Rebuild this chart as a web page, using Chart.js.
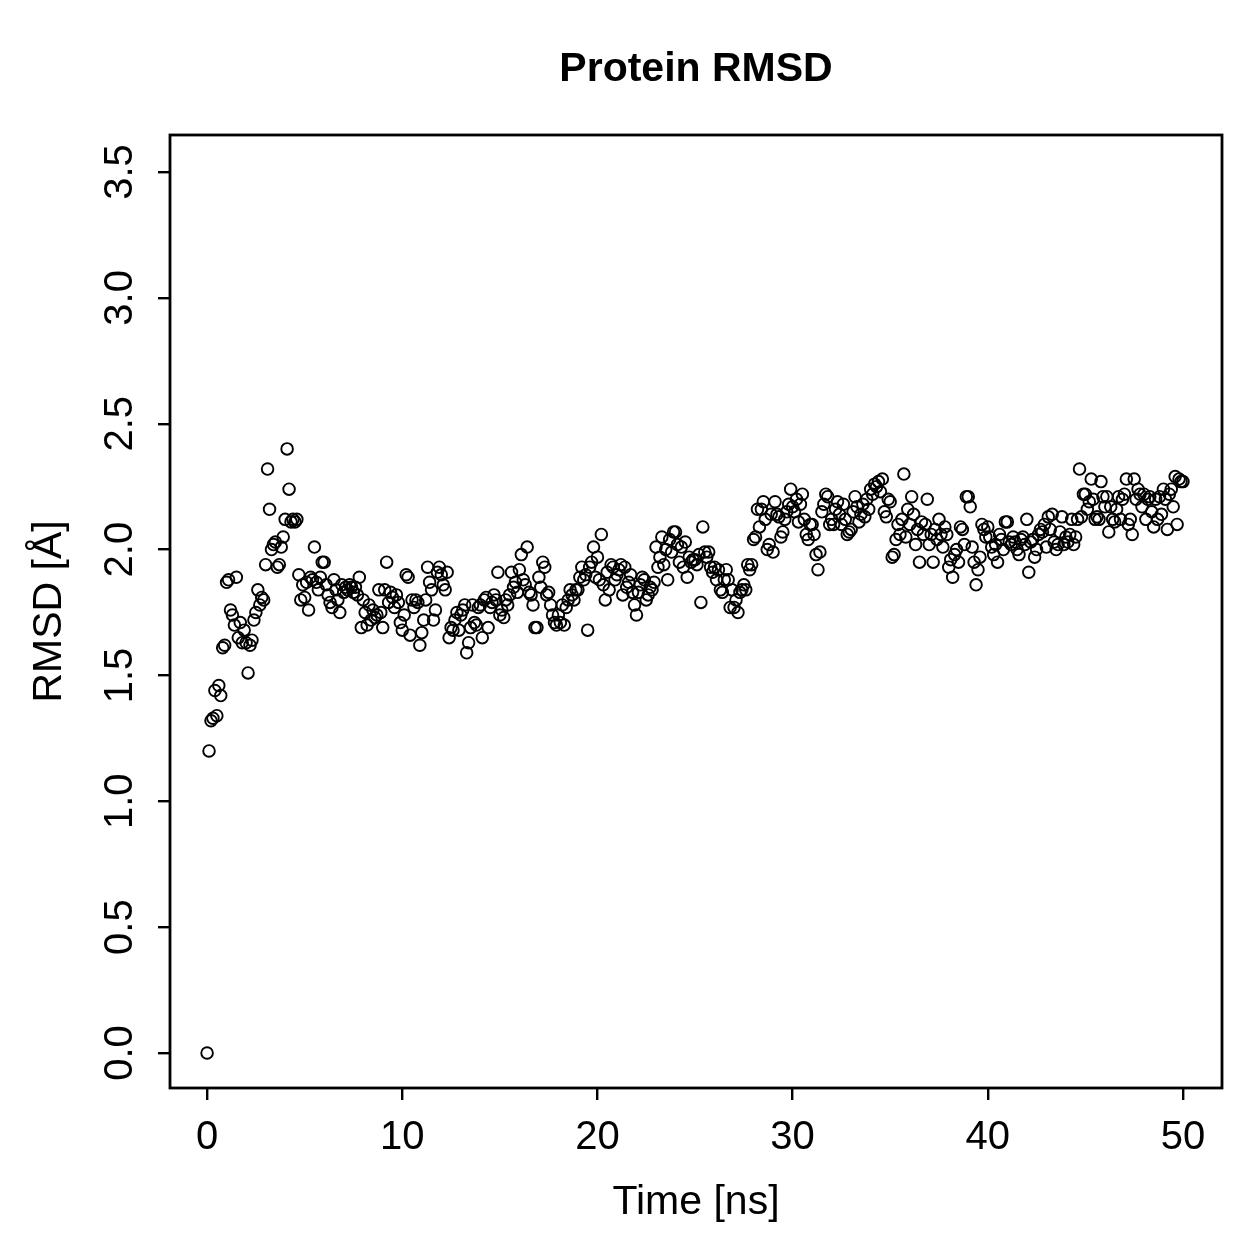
<!DOCTYPE html>
<html lang="en">
<head>
    <meta charset="UTF-8">
    <title>Protein RMSD</title>
    <script src="https://cdn.jsdelivr.net/npm/chart.js"></script>
    <style>
        html, body { margin: 0; padding: 0; background: #fff; }
        #wrap { width: 1259px; height: 1259px; }
    </style>
</head>
<body>
    <div id="wrap"><canvas id="rmsd-chart" width="1259" height="1259"></canvas></div>

    <script>
        // frames are written every 0.1 ns
        const dt = 0.1;

        // RMSD [Å], one row per ns (10 frames each)
        const rmsd = [
            0.00, 1.20, 1.32, 1.33, 1.44, 1.34, 1.46, 1.42, 1.61, 1.62,
            1.87, 1.88, 1.76, 1.74, 1.70, 1.89, 1.65, 1.71, 1.63, 1.68,
            1.63, 1.51, 1.62, 1.64, 1.72, 1.75, 1.84, 1.78, 1.81, 1.80,
            1.94, 2.32, 2.16, 2.00, 2.02, 2.03, 1.93, 1.94, 2.01, 2.05,
            2.12, 2.40, 2.24, 2.11, 2.12, 2.11, 2.12, 1.90, 1.80, 1.86,
            1.81, 1.87, 1.76, 1.89, 1.88, 2.01, 1.87, 1.84, 1.89, 1.95,
            1.95, 1.86, 1.82, 1.79, 1.77, 1.88, 1.84, 1.80, 1.75, 1.86,
            1.83, 1.85, 1.84, 1.86, 1.85, 1.83, 1.85, 1.82, 1.89, 1.69,
            1.80, 1.75, 1.70, 1.78, 1.72, 1.76, 1.73, 1.74, 1.84, 1.75,
            1.69, 1.84, 1.95, 1.79, 1.83, 1.81, 1.77, 1.82, 1.79, 1.71,
            1.68, 1.74, 1.90, 1.89, 1.66, 1.80, 1.77, 1.80, 1.79, 1.62,
            1.67, 1.72, 1.80, 1.93, 1.87, 1.84, 1.72, 1.76, 1.91, 1.93,
            1.90, 1.86, 1.84, 1.91, 1.65, 1.69, 1.68, 1.72, 1.75, 1.68,
            1.74, 1.76, 1.78, 1.59, 1.63, 1.69, 1.78, 1.71, 1.70, 1.77,
            1.78, 1.65, 1.80, 1.81, 1.69, 1.77, 1.79, 1.82, 1.80, 1.91,
            1.74, 1.76, 1.73, 1.80, 1.78, 1.82, 1.91, 1.85, 1.87, 1.83,
            1.92, 1.98, 1.88, 1.86, 2.01, 1.83, 1.82, 1.78, 1.69, 1.69,
            1.89, 1.85, 1.95, 1.93, 1.82, 1.83, 1.78, 1.74, 1.71, 1.70,
            1.74, 1.71, 1.78, 1.70, 1.77, 1.80, 1.84, 1.82, 1.80, 1.84,
            1.84, 1.89, 1.93, 1.88, 1.90, 1.68, 1.93, 1.95, 2.01, 1.89,
            1.97, 1.88, 2.06, 1.86, 1.80, 1.91, 1.84, 1.94, 1.93, 1.88,
            1.90, 1.92, 1.94, 1.82, 1.93, 1.85, 1.87, 1.90, 1.83, 1.78,
            1.74, 1.83, 1.86, 1.89, 1.88, 1.80, 1.82, 1.85, 1.84, 1.87,
            2.01, 1.93, 1.97, 2.05, 1.94, 2.00, 1.88, 2.04, 1.99, 2.07,
            2.07, 2.02, 1.95, 2.01, 1.93, 2.03, 1.89, 1.97, 1.95, 1.96,
            1.96, 1.94, 1.98, 1.79, 2.09, 1.99, 1.97, 1.99, 1.93, 1.91,
            1.93, 1.88, 1.92, 1.84, 1.83, 1.88, 1.92, 1.88, 1.77, 1.84,
            1.77, 1.80, 1.75, 1.83, 1.84, 1.86, 1.84, 1.94, 1.92, 1.94,
            2.04, 2.05, 2.16, 2.09, 2.16, 2.19, 2.12, 2.00, 2.02, 2.14,
            1.99, 2.19, 2.14, 2.13, 2.05, 2.07, 2.12, 2.15, 2.18, 2.24,
            2.17, 2.15, 2.20, 2.11, 2.18, 2.22, 2.12, 2.06, 2.04, 2.10,
            2.10, 2.06, 1.98, 1.92, 1.99, 2.15, 2.18, 2.22, 2.21, 2.10,
            2.12, 2.10, 2.16, 2.19, 2.14, 2.10, 2.18, 2.12, 2.06, 2.07,
            2.08, 2.15, 2.21, 2.17, 2.11, 2.14, 2.18, 2.13, 2.20, 2.16,
            2.24, 2.22, 2.26, 2.25, 2.27, 2.23, 2.28, 2.15, 2.13, 2.20,
            2.19, 1.97, 1.98, 2.04, 2.10, 2.06, 2.12, 2.30, 2.05, 2.16,
            2.10, 2.21, 2.14, 2.02, 2.08, 1.95, 2.11, 2.06, 2.10, 2.20,
            2.02, 2.06, 1.95, 2.08, 2.04, 2.12, 2.06, 2.01, 2.09, 2.06,
            1.93, 1.96, 1.89, 1.98, 2.00, 1.95, 2.09, 2.08, 2.02, 2.21,
            2.21, 2.17, 2.01, 1.95, 1.86, 1.92, 1.97, 2.10, 2.08, 2.05,
            2.09, 2.05, 2.01, 1.98, 2.02, 1.95, 2.06, 2.04, 2.00, 2.11,
            2.11, 2.03, 2.02, 2.05, 2.03, 2.00, 1.98, 2.04, 2.05, 2.02,
            2.12, 1.91, 2.03, 2.04, 1.97, 2.00, 2.06, 2.08, 2.07, 2.10,
            2.01, 2.13, 2.08, 2.14, 2.03, 2.00, 2.02, 2.07, 2.13, 2.02,
            2.05, 2.03, 2.06, 2.12, 2.02, 2.05, 2.12, 2.32, 2.13, 2.22,
            2.22, 2.16, 2.19, 2.28, 2.20, 2.12, 2.13, 2.12, 2.27, 2.21,
            2.17, 2.21, 2.07, 2.17, 2.12, 2.11, 2.16, 2.21, 2.12, 2.20,
            2.22, 2.28, 2.10, 2.12, 2.06, 2.28, 2.20, 2.24, 2.22, 2.17,
            2.22, 2.12, 2.20, 2.21, 2.15, 2.09, 2.20, 2.12, 2.21, 2.14,
            2.24, 2.20, 2.08, 2.22, 2.24, 2.17, 2.29, 2.10, 2.28, 2.27,
            2.27
        ];

        const xTicks = [0, 10, 20, 30, 40, 50];
        const yTicks = [0.0, 0.5, 1.0, 1.5, 2.0, 2.5, 3.0, 3.5];
        const yTickLabels = ['0.0', '0.5', '1.0', '1.5', '2.0', '2.5', '3.0', '3.5'];

        const points = rmsd.map((v, i) => ({ x: +(i * dt).toFixed(1), y: v }));

        const FONT = 'Liberation Sans, Arial, Helvetica, sans-serif';

        // R-like decorations: frame, tick labels, titles
        const rStyle = {
            id: 'rStyle',
            afterDraw(chart) {
                const ctx = chart.ctx;
                const area = chart.chartArea;
                const xs = chart.scales.x;
                const ys = chart.scales.y;
                ctx.save();
                ctx.strokeStyle = '#000';
                ctx.lineWidth = 2.8;
                ctx.strokeRect(area.left, area.top, area.right - area.left, area.bottom - area.top);

                ctx.fillStyle = '#000';
                ctx.font = '40px ' + FONT;
                ctx.textAlign = 'center';
                ctx.textBaseline = 'middle';
                xTicks.forEach(t => {
                    ctx.fillText(String(t), xs.getPixelForValue(t), 1138);
                });
                yTicks.forEach((t, i) => {
                    ctx.save();
                    ctx.translate(121, ys.getPixelForValue(t));
                    ctx.rotate(-Math.PI / 2);
                    ctx.fillText(yTickLabels[i], 0, 0);
                    ctx.restore();
                });

                ctx.font = '41px ' + FONT;
                ctx.fillText('Time [ns]', (area.left + area.right) / 2, 1203);
                ctx.save();
                ctx.translate(50, (area.top + area.bottom) / 2);
                ctx.rotate(-Math.PI / 2);
                ctx.fillText('RMSD [Å]', 0, 0);
                ctx.restore();

                ctx.font = 'bold 41px ' + FONT;
                ctx.fillText('Protein RMSD', (area.left + area.right) / 2, 70);
                ctx.restore();
            }
        };

        const axisGrid = {
            display: true,
            drawOnChartArea: false,
            drawTicks: true,
            tickLength: 12,
            color: '#000',
            lineWidth: 2.4
        };

        const ctx = document.getElementById('rmsd-chart').getContext('2d');
        new Chart(ctx, {
            type: 'scatter',
            data: {
                datasets: [{
                    data: points,
                    pointStyle: 'circle',
                    pointRadius: 5.8,
                    pointHoverRadius: 5.8,
                    pointBorderWidth: 1.9,
                    borderColor: '#000',
                    backgroundColor: 'rgba(0,0,0,0)',
                    clip: false
                }]
            },
            options: {
                responsive: false,
                animation: false,
                events: [],
                layout: { padding: { left: 0, top: 135, right: 37, bottom: 0 } },
                plugins: {
                    legend: { display: false },
                    tooltip: { enabled: false }
                },
                scales: {
                    x: {
                        type: 'linear',
                        min: -1.9,
                        max: 52.0,
                        afterBuildTicks: s => { s.ticks = xTicks.map(v => ({ value: v })); },
                        afterFit: s => { s.height = 1259 - 1088; },
                        grid: axisGrid,
                        border: { display: false },
                        ticks: { display: false }
                    },
                    y: {
                        type: 'linear',
                        min: -0.139,
                        max: 3.647,
                        afterBuildTicks: s => { s.ticks = yTicks.map(v => ({ value: v })); },
                        afterFit: s => { s.width = 170; },
                        grid: axisGrid,
                        border: { display: false },
                        ticks: { display: false }
                    }
                }
            },
            plugins: [rStyle]
        });
    </script>
</body>
</html>
